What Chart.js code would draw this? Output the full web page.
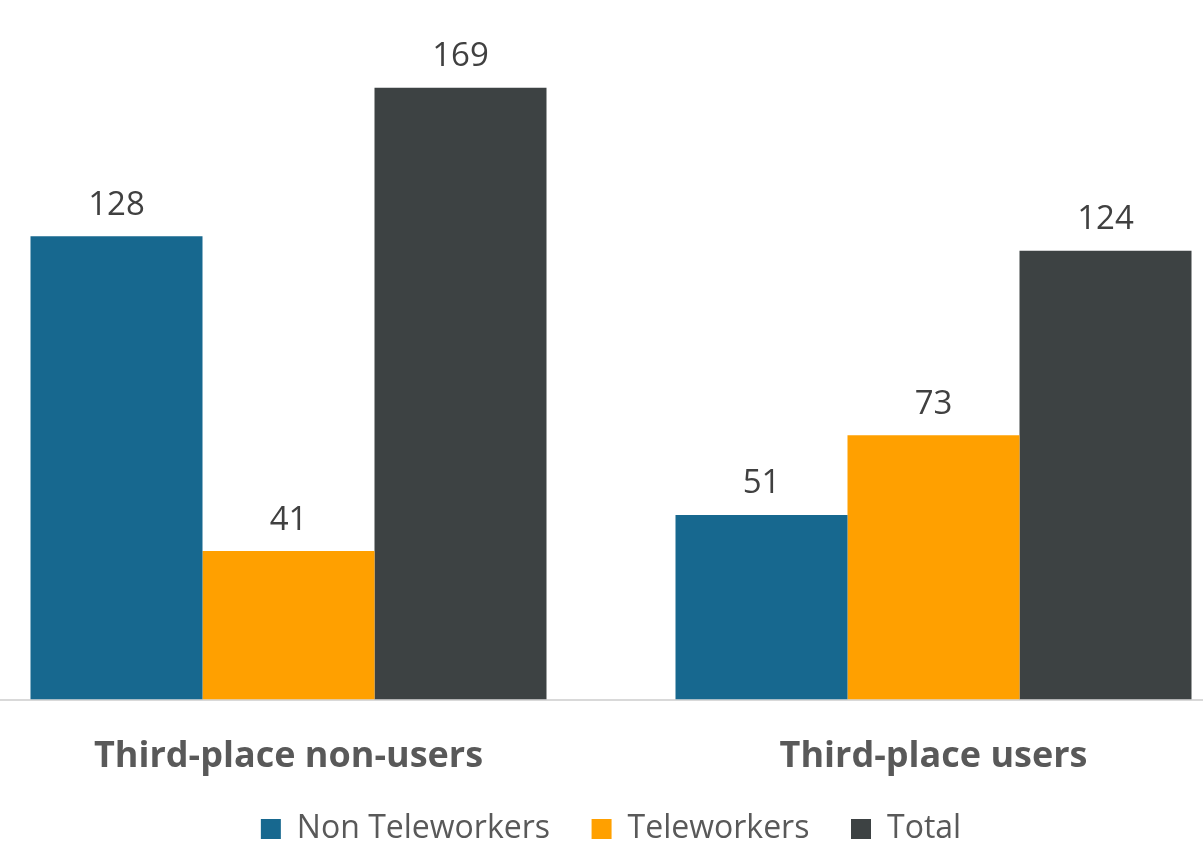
<!DOCTYPE html>
<html lang="en">
<head>
  <meta charset="UTF-8">
  <title>Third-place users</title>
  <script src="https://cdn.jsdelivr.net/npm/chart.js"></script>
  <style>
    html, body { margin: 0; padding: 0; background: #fff; overflow: hidden; }
    body { width: 1203px; height: 855px; position: relative; }
    .chart-container { position: absolute; left: -34px; top: 0; width: 1290px; height: 855px; }
  </style>
</head>
<body>
  <div class="chart-container"><canvas id="placesChart"></canvas></div>

<script>
  // data
  const categories = ['Third-place non-users', 'Third-place users'];
  const nonTeleworkers = [128, 51];
  const teleworkers = [41, 73];
  const total = [169, 124];

  // draws the value above each bar
  const valueLabels = {
    id: 'valueLabels',
    afterDatasetsDraw(chart) {
      const ctx = chart.ctx;
      ctx.save();
      ctx.font = '33px "Open Sans"';
      ctx.fillStyle = '#404040';
      ctx.textAlign = 'center';
      ctx.textBaseline = 'middle';
      chart.data.datasets.forEach((ds, i) => {
        chart.getDatasetMeta(i).data.forEach((bar, j) => {
          ctx.fillText(ds.data[j], bar.x, bar.y - 31);
        });
      });
      ctx.restore();
    }
  };

  new Chart(document.getElementById('placesChart'), {
    type: 'bar',
    data: {
      labels: categories,
      datasets: [
        { label: 'Non Teleworkers', data: nonTeleworkers, backgroundColor: '#17688f' },
        { label: 'Teleworkers', data: teleworkers, backgroundColor: '#ffa000' },
        { label: 'Total', data: total, backgroundColor: '#3d4243' }
      ]
    },
    options: {
      responsive: true,
      maintainAspectRatio: false,
      animation: false,
      layout: { padding: { top: 48, bottom: 0, left: 0, right: 0 } },
      datasets: { bar: { categoryPercentage: 0.8, barPercentage: 1.0, borderWidth: 0 } },
      scales: {
        y: { display: false, min: 0, max: 180 },
        x: {
          grid: { display: false, drawTicks: false },
          border: { display: true, color: '#d9d9d9', width: 2 },
          ticks: {
            padding: 49,
            color: '#595959',
            font: { family: 'Open Sans', size: 36, weight: 'bold', lineHeight: 0.43 }
          }
        }
      },
      plugins: {
        tooltip: { enabled: false },
        legend: {
          position: 'bottom',
          labels: {
            boxWidth: 20,
            boxHeight: 20,
            padding: 0,
            color: '#595959',
            font: { family: 'Open Sans', size: 32 },
            // trailing spaces make the gap between items
            generateLabels(chart) {
              const items = Chart.defaults.plugins.legend.labels.generateLabels(chart);
              items.forEach((it, i) => {
                if (i < items.length - 1) it.text += '     ';
              });
              return items;
            }
          }
        }
      }
    },
    plugins: [valueLabels]
  });
</script>
</body>
</html>
